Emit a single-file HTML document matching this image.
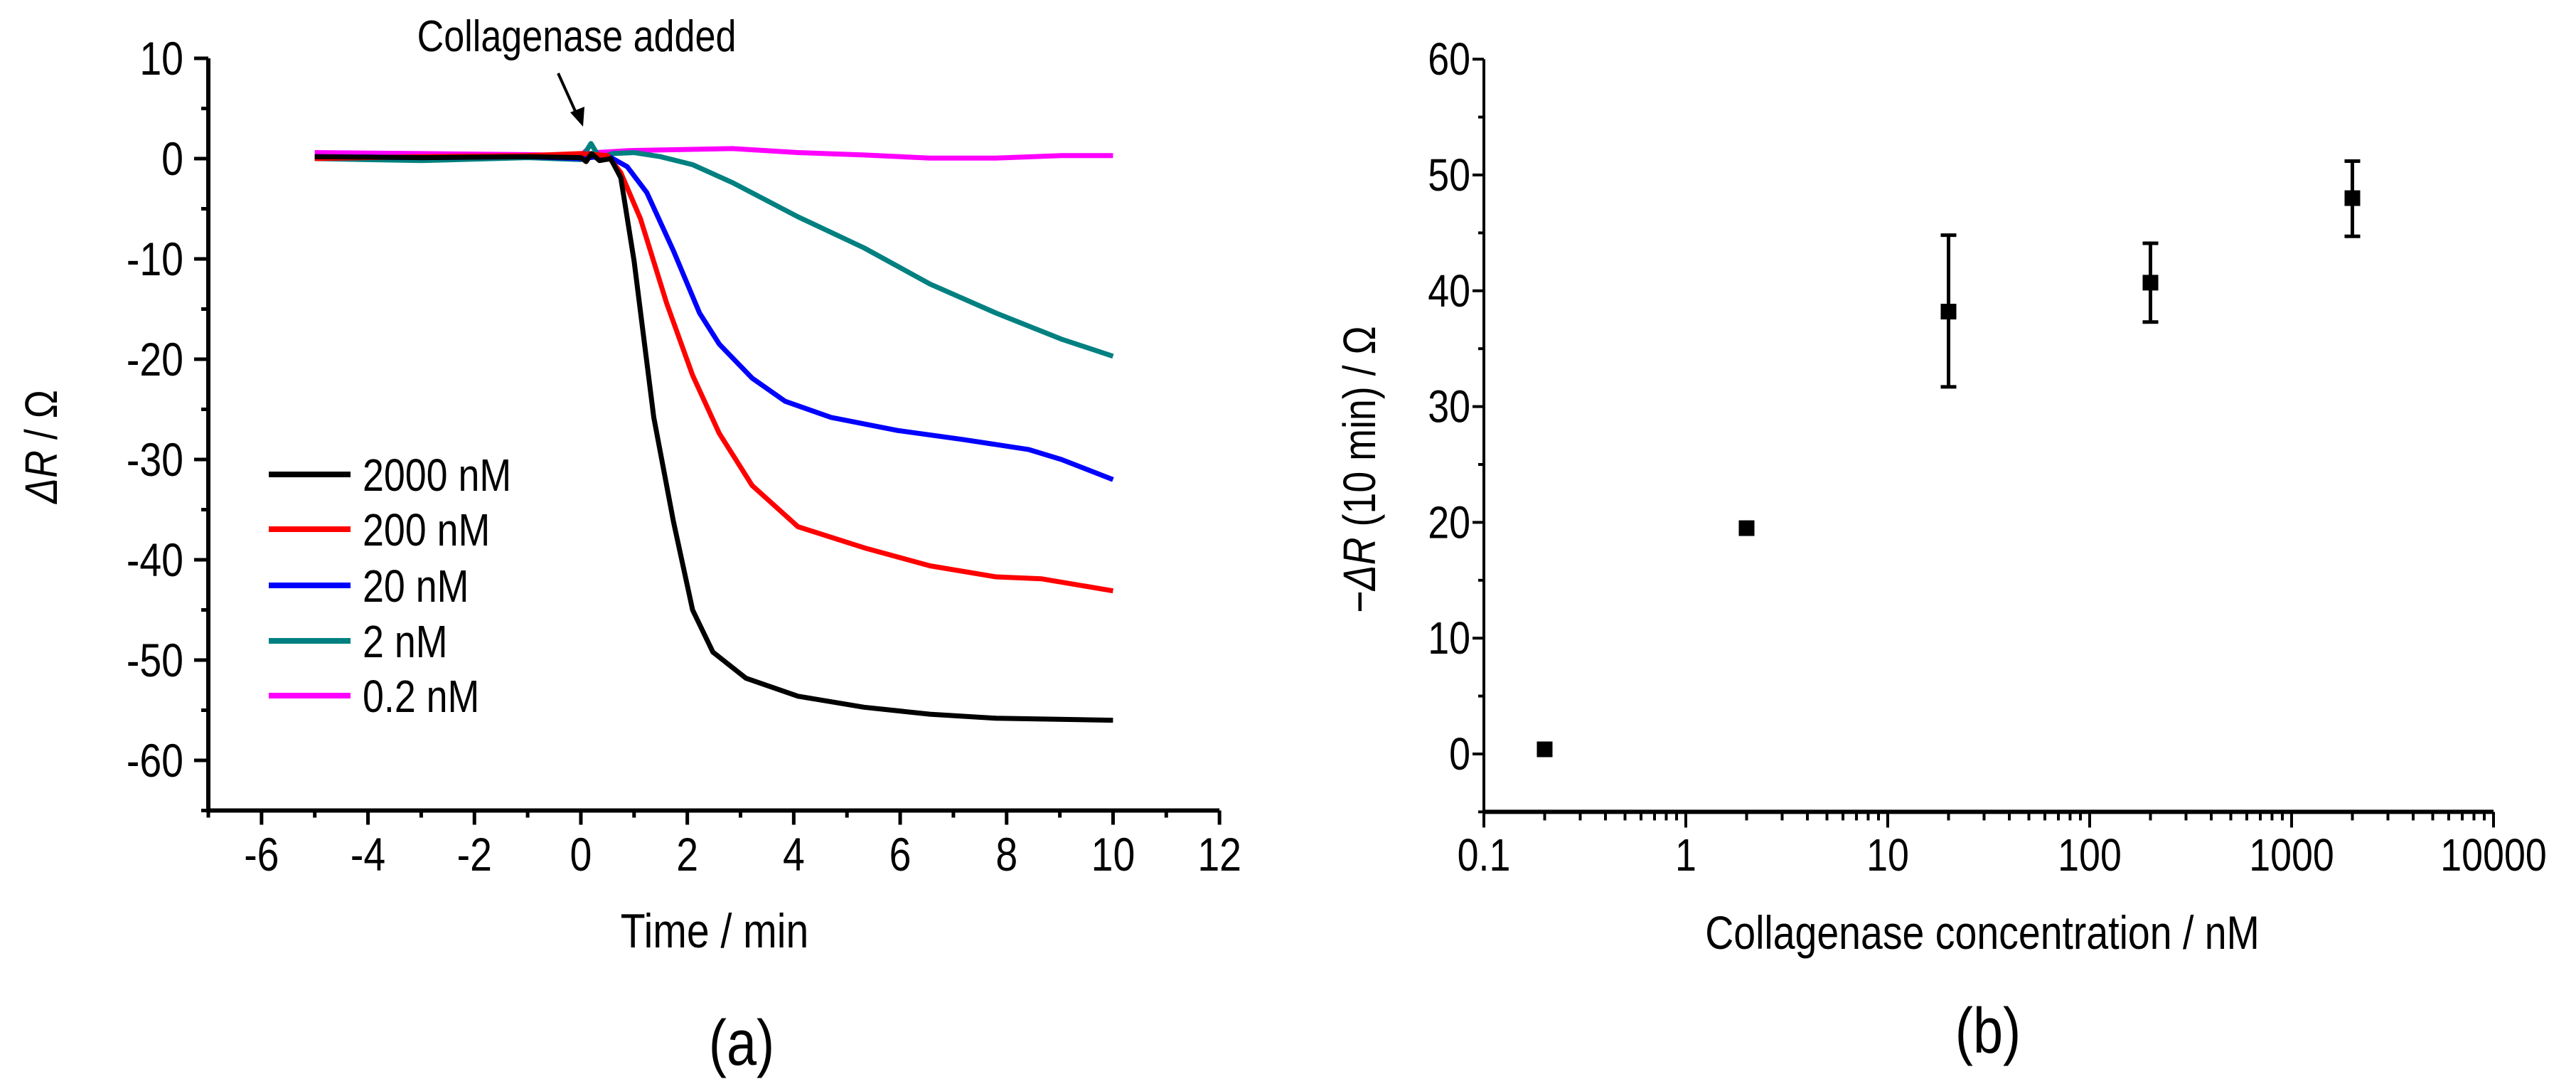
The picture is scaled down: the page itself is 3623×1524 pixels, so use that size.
<!DOCTYPE html>
<html><head><meta charset="utf-8"><style>
html,body{margin:0;padding:0;background:#fff}
svg{display:block}
text{font-family:"Liberation Sans",sans-serif;fill:#000}
</style></head><body>
<svg id="fig" width="3623" height="1524" viewBox="0 0 3623 1524" xmlns="http://www.w3.org/2000/svg">
<g id="a"></g>
<g id="b"></g>
</svg>
<script>
// ---- Chart (a) data ----
const seriesNames = ["2000 nM","200 nM","20 nM","2 nM","0.2 nM"];
const seriesColors = ["#000000","#ff0000","#0000ff","#008080","#ff00ff"];
const t2000 = [-5,-3,-1,0,0.1,0.2,0.35,0.56,0.75,1.0,1.37,1.74,2.1,2.48,3.1,4.08,5.32,6.56,7.8,10];
const v2000 = [0.2,0.1,0.2,0.1,-0.3,0.5,-0.2,0,-1.9,-10.2,-25.8,-36.2,-45,-49.2,-51.8,-53.6,-54.7,-55.4,-55.8,-56];
const t200 = [-5,-3,-1,0,0.5,0.75,1.12,1.61,2.1,2.6,3.22,4.08,5.32,6.56,7.8,8.66,10];
const v200 = [0,0.2,0.3,0.5,0.3,-1.4,-6,-14.4,-21.6,-27.4,-32.6,-36.7,-38.8,-40.6,-41.7,-41.9,-43.1];
const t20 = [-5,-3,-1,0,0.5,0.87,1.24,1.74,2.23,2.6,3.22,3.84,4.7,5.94,7.17,8.41,9.03,10];
const v20 = [0.2,0.1,0.2,0,0.3,-0.8,-3.4,-9.2,-15.4,-18.5,-21.9,-24.2,-25.8,-27.1,-28,-29,-30,-32];
const t2 = [-5,-3,-1,0,0.19,0.35,0.6,1.0,1.49,2.1,2.85,4.08,5.32,6.56,7.8,9.03,10];
const v2 = [0,-0.2,0.1,-0.1,1.5,0.1,0.5,0.6,0.2,-0.6,-2.4,-5.8,-8.9,-12.5,-15.4,-18,-19.7];
const t02 = [-5,-3,-1,0,0.1,0.2,0.3,0.9,2.85,4.08,5.32,6.56,7.8,9.03,10];
const v02 = [0.6,0.5,0.4,0.3,0.8,0.2,0.6,0.8,1.0,0.6,0.36,0.05,0.05,0.3,0.3];
const xTicksA = [-6,-4,-2,0,2,4,6,8,10,12];
const yTicksA = [10,0,-10,-20,-30,-40,-50,-60];
// ---- Chart (b) data ----
const concs = [0.2,2,20,200,2000];
const meanR = [0.4,19.5,38.2,40.7,48.0];
const errHi = [0.4,0.4,6.6,3.4,3.2];
const errLo = [0.4,0.4,6.5,3.4,3.3];
const xTicksB = [0.1,1,10,100,1000,10000];
const xTickLabelsB = ["0.1","1","10","100","1000","10000"];
const yTicksB = [0,10,20,30,40,50,60];

const NS="http://www.w3.org/2000/svg";
const SX=0.84;
function mk(parent,tag,attrs){const e=document.createElementNS(NS,tag);for(const k in attrs)e.setAttribute(k,attrs[k]);parent.appendChild(e);return e;}
function txt(parent,x,y,size,anchor,html,rot){
  const t=`translate(${x},${y})`+(rot?' rotate(-90)':'')+` scale(${SX},1)`;
  const e=mk(parent,'text',{x:0,y:0,'font-size':size,'text-anchor':anchor,transform:t});
  e.innerHTML=html;return e;
}

// axes functions (a)
const xA = t => 293 + (t+7)*74.85;
const yA = v => 223 - v*14.1;
const gA = document.getElementById('a');
let e;
e=mk(gA,'path',{d:`M${xA(-7)} ${yA(10)} V${yA(-65)} H${xA(12)}`,fill:'none',stroke:'#000','stroke-width':6});


for(let v=10; v>=-65; v-=5){
  const major = v%10===0;
  e=mk(gA,'line',{x1:xA(-7)-(major?20:10),x2:xA(-7),y1:yA(v),y2:yA(v),stroke:'#000','stroke-width':5});
  
  
}
yTicksA.forEach(v=>{
  e=txt(gA,258,yA(v)+23,66,'end',String(v));
  
  
});
for(let t=-7;t<=12;t+=1){
  const major = (t%2===0);
  e=mk(gA,'line',{x1:xA(t),x2:xA(t),y1:yA(-65),y2:yA(-65)+(major?20:10),stroke:'#000','stroke-width':5});
  
  
}
xTicksA.forEach(t=>{
  e=txt(gA,xA(t),1224,66,'middle',String(t));
  
  
});
e=txt(gA,1005,1332,68,'middle','Time / min');


e=txt(gA,80,628,64,'middle','<tspan font-style="italic">ΔR</tspan> / Ω',true);


const ts=[t2000,t200,t20,t2,t02], vs=[v2000,v200,v20,v2,v02];
[4,3,2,1,0].forEach(i=>{
  const d = ts[i].map((t,j)=>(j?'L':'M')+xA(t).toFixed(1)+' '+yA(vs[i][j]).toFixed(1)).join(' ');
  e=mk(gA,'path',{d:d,fill:'none',stroke:seriesColors[i],'stroke-width':7,'stroke-linejoin':'round'});
  
  
});
// legend
const legY=[667,744,823,901,978];
seriesNames.forEach((n,i)=>{
  e=mk(gA,'line',{x1:378,x2:493,y1:legY[i],y2:legY[i],stroke:seriesColors[i],'stroke-width':8});
  
  
  e=txt(gA,510,legY[i]+23,64,'start',n);
  
  
});
e=txt(gA,811,72,62,'middle','Collagenase added');


e=mk(gA,'line',{x1:785,y1:103,x2:813,y2:165,stroke:'#000','stroke-width':4});


e=mk(gA,'path',{d:'M820 178 L802 158 L822 150 Z',fill:'#000'});


e=txt(gA,1043,1497,90,'middle','(a)');



// chart (b)
const xB = c => 2087 + (Math.log10(c)+1)*284;
const yB = v => 1060 - v*16.28;
const gB=document.getElementById('b');
e=mk(gB,'path',{d:`M${xB(0.1)} ${yB(60)} V${yB(-5)} H${xB(10000)}`,fill:'none',stroke:'#000','stroke-width':4});


e=mk(gB,'line',{x1:xB(0.1),x2:xB(10000),y1:yB(-5),y2:yB(-5),stroke:'#000','stroke-width':6});


for(let v=-5; v<=60; v+=5){
  const major=v%10===0;
  e=mk(gB,'line',{x1:xB(0.1)-(major?16:8),x2:xB(0.1),y1:yB(v),y2:yB(v),stroke:'#000','stroke-width':4});
  
  
}
yTicksB.forEach(v=>{
  e=txt(gB,2068,yB(v)+22,64,'end',String(v));
  
  
});
for(let d=0; d<5; d++){
  const base=Math.pow(10,d-1);
  for(let m=1;m<=10;m++){
    const c=base*m;
    const major=(m===1||m===10);
    e=mk(gB,'line',{x1:xB(c),x2:xB(c),y1:yB(-5),y2:yB(-5)+(major?22:12),stroke:'#000','stroke-width':4});
    
    
  }
}
xTicksB.forEach((c,i)=>{
  e=txt(gB,xB(c),1224,64,'middle',xTickLabelsB[i]);
  
  
});
e=txt(gB,2788,1334,66,'middle','Collagenase concentration / nM');


e=txt(gB,1934,660,64,'middle','−<tspan font-style="italic">ΔR</tspan> (10 min) / Ω',true);


concs.forEach((c,i)=>{
  const x=xB(c), y=yB(meanR[i]), yh=yB(meanR[i]+errHi[i]), yl=yB(meanR[i]-errLo[i]);
  e=mk(gB,'path',{d:`M${x} ${yh} V${yl} M${x-11} ${yh} H${x+11} M${x-11} ${yl} H${x+11}`,stroke:'#000','stroke-width':5,fill:'none'});
  
  
  e=mk(gB,'rect',{x:x-11,y:y-11,width:22,height:22,fill:'#000'});
  
  
});
e=txt(gB,2796,1480,90,'middle','(b)');


</script>
</body></html>
